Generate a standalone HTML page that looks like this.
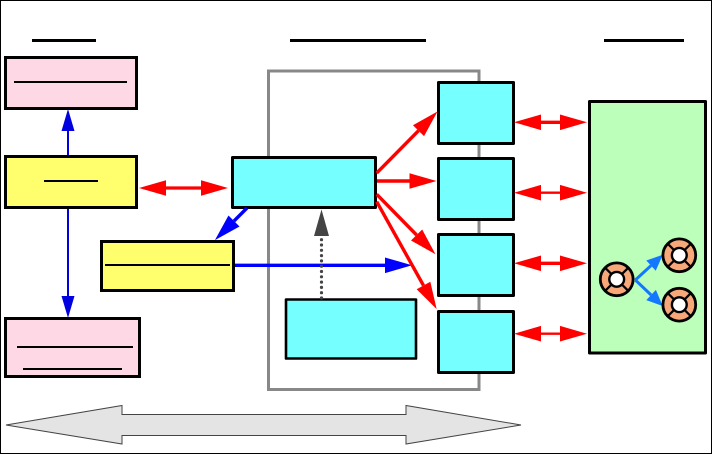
<!DOCTYPE html>
<html>
<head>
<meta charset="utf-8">
<style>
html,body{margin:0;padding:0;background:#fff}
svg{display:block}
</style>
</head>
<body>
<svg width="712" height="454" viewBox="0 0 712 454" xmlns="http://www.w3.org/2000/svg">
<defs>
<marker id="r" markerUnits="userSpaceOnUse" markerWidth="28" markerHeight="16" refX="0" refY="8" orient="auto-start-reverse" overflow="visible"><path d="M0,0.2L27,8L0,15.8Z" fill="#ff0000"/></marker>
<marker id="b" markerUnits="userSpaceOnUse" markerWidth="28" markerHeight="16" refX="0" refY="8" orient="auto" overflow="visible"><path d="M0,0.2L27,8L0,15.8Z" fill="#0000ff"/></marker>
<marker id="l" markerUnits="userSpaceOnUse" markerWidth="16" markerHeight="14" refX="0" refY="7" orient="auto" overflow="visible"><path d="M0,0L16,7L0,14Z" fill="#1478ff"/></marker>
<g id="buoy">
<circle r="16.4" fill="#f8a878" stroke="#000" stroke-width="2.8"/>
<path d="M-11.5,-11.5L11.5,11.5M-11.5,11.5L11.5,-11.5" stroke="#000" stroke-width="2.2"/>
<circle r="7.4" fill="#fff" stroke="#000" stroke-width="2.4"/>
</g>
</defs>

<rect x="0.5" y="0.5" width="711" height="453" fill="#fff" stroke="#000" stroke-width="1"/>

<!-- title bars -->
<rect x="32" y="39" width="64" height="3" fill="#000"/>
<rect x="290" y="39" width="136" height="3" fill="#000"/>
<rect x="604" y="39" width="80" height="3" fill="#000"/>

<!-- gray frame -->
<rect x="268.5" y="71" width="210.5" height="318.5" fill="#fff" stroke="#888" stroke-width="3"/>

<!-- left boxes -->
<rect x="5.5" y="57.5" width="131" height="51" fill="#ffd8e6" stroke="#000" stroke-width="3"/>
<rect x="14" y="81" width="113" height="2" fill="#000"/>
<rect x="5.5" y="156.5" width="131" height="51" fill="#ffff6e" stroke="#000" stroke-width="3"/>
<rect x="44" y="180" width="54" height="2" fill="#000"/>
<rect x="101.5" y="241.5" width="132" height="49" fill="#ffff6e" stroke="#000" stroke-width="3"/>
<rect x="105" y="264" width="125" height="2" fill="#000"/>
<rect x="5.5" y="318.5" width="134" height="58" fill="#ffd8e6" stroke="#000" stroke-width="3"/>
<rect x="17" y="346" width="116" height="2" fill="#000"/>
<rect x="23" y="368" width="99" height="2" fill="#000"/>

<!-- cyan boxes -->
<g fill="#75ffff" stroke="#000" stroke-linejoin="round">
<rect x="232.5" y="157.5" width="143" height="50" stroke-width="3"/>
<rect x="286" y="299.5" width="130" height="59" stroke-width="2.6"/>
<rect x="438.5" y="82.5" width="75" height="61" stroke-width="3"/>
<rect x="438.5" y="158.5" width="75" height="61" stroke-width="3"/>
<rect x="438.5" y="234.5" width="75" height="61" stroke-width="3"/>
<rect x="438.5" y="311.5" width="75" height="61" stroke-width="3"/>
</g>

<!-- green panel -->
<rect x="589.5" y="101.5" width="116" height="251.5" fill="#bbffbb" stroke="#000" stroke-width="3" stroke-linejoin="round"/>

<!-- blue connectors -->
<line x1="68" y1="155" x2="68" y2="131" stroke="#0000e0" stroke-width="2"/>
<path d="M68,109L74.5,131L61.5,131Z" fill="#0000e0"/>
<line x1="68" y1="209" x2="68" y2="296" stroke="#0000e0" stroke-width="2"/>
<path d="M61.5,296L74.5,296L68,318Z" fill="#0000e0"/>
<line x1="247" y1="208" x2="234" y2="221" stroke="#0000ff" stroke-width="3.4" marker-end="url(#b)"/>
<line x1="235" y1="265.3" x2="385" y2="265.3" stroke="#0000ff" stroke-width="3.4" marker-end="url(#b)"/>

<!-- red double arrows -->
<g stroke="#ff0000" stroke-width="3.3">
<line x1="166" y1="188" x2="201" y2="188" marker-start="url(#r)" marker-end="url(#r)"/>
<line x1="541" y1="122.3" x2="560" y2="122.3" marker-start="url(#r)" marker-end="url(#r)"/>
<line x1="541" y1="192.7" x2="560" y2="192.7" stroke-width="2.4" marker-start="url(#r)" marker-end="url(#r)"/>
<line x1="541" y1="263.3" x2="560" y2="263.3" marker-start="url(#r)" marker-end="url(#r)"/>
<line x1="541" y1="333.7" x2="560" y2="333.7" stroke-width="2.4" marker-start="url(#r)" marker-end="url(#r)"/>
<!-- red fan-out -->
<line x1="376.7" y1="173" x2="418.5" y2="130.7" stroke-width="3.4" marker-end="url(#r)"/>
<line x1="377" y1="181" x2="409.5" y2="181" stroke-width="3.4" marker-end="url(#r)"/>
<line x1="376.7" y1="194.3" x2="416.6" y2="235" stroke-width="3.4" marker-end="url(#r)"/>
<line x1="376.7" y1="201.7" x2="423.5" y2="285.5" stroke-width="3.4" marker-end="url(#r)"/>
</g>

<!-- dotted gray -->
<line x1="321.5" y1="298" x2="321.5" y2="236" stroke="#444" stroke-width="3.2" stroke-linecap="round" stroke-dasharray="0 5.3"/>
<path d="M321.5,209.5L329,236L314,236Z" fill="#444"/>

<!-- buoys -->
<line x1="635.3" y1="280" x2="651" y2="265.6" stroke="#1478ff" stroke-width="3" marker-end="url(#l)"/>
<line x1="635.3" y1="280" x2="651.1" y2="295" stroke="#1478ff" stroke-width="3" marker-end="url(#l)"/>
<use href="#buoy" x="616.7" y="279.3"/>
<use href="#buoy" x="679.3" y="255.3"/>
<use href="#buoy" x="679.3" y="304.7"/>

<!-- big double arrow -->
<path d="M6,425L122,405.5V414.5H406V405.5L521,425L406,444V435.5H122V444Z" fill="#e4e4e4" stroke="#444" stroke-width="1"/>
</svg>
</body>
</html>
